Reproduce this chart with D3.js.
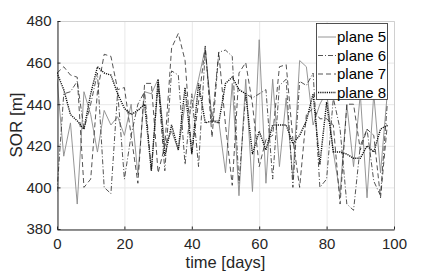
<!DOCTYPE html>
<html><head><meta charset="utf-8">
<script src="https://cdn.jsdelivr.net/npm/d3@7"></script>
<style>body{margin:0;background:#fff}svg{display:block}</style>
</head><body>
<svg id="c" width="436" height="273"></svg>
<script>
const days = d3.range(0, 100, 2);
const plane5 = [452,415,431,392,446,435,417,437,430,434,425,440,406,446,445,452,420,427,418,440,438,452,467,432,432,407,450,396,452,398,471,402,452,410,443,404,461,458,430,440,446,417,397,440,410,445,395,445,407,445];
const plane6 = [398,445,446,451,428,440,455,400,397,446,404,425,440,446,408,450,408,456,454,411,445,410,466,431,465,466,463,402,445,443,445,447,404,449,452,400,451,449,455,400,404,443,428,392,389,420,428,403,396,440];
const plane7 = [455,458,454,453,400,404,446,464,463,447,448,425,402,450,450,407,420,467,474,461,416,441,468,424,465,430,401,455,460,440,410,423,425,458,459,423,400,435,438,433,433,430,392,440,440,418,428,425,395,430];
const plane8 = [455,447,435,432,428,445,458,455,454,445,438,435,437,440,408,452,415,430,418,448,416,450,431,432,431,450,453,447,445,416,427,418,430,430,430,421,425,432,445,411,441,417,417,416,414,414,420,417,428,430];
const seriesNames = ["plane 5","plane 6","plane 7","plane 8"];
const xTicks = [0,20,40,60,80,100];
const yTicks = [380,400,420,440,460,480];

const svg = d3.select("#c");
const L=57, R=394, T=21, B=229;
const x = d3.scaleLinear().domain([0,100]).range([L,R]);
const y = d3.scaleLinear().domain([380,480]).range([B,T]);
const font = "Liberation Sans, Arial, sans-serif";

svg.append("g").selectAll("line").data(xTicks).join("line")
  .attr("x1",d=>x(d)+0.5).attr("x2",d=>x(d)+0.5).attr("y1",T).attr("y2",B)
  .attr("stroke","#e8e8e8").attr("stroke-width",1);
svg.append("g").selectAll("line").data(yTicks).join("line")
  .attr("y1",d=>y(d)+0.5).attr("y2",d=>y(d)+0.5).attr("x1",L).attr("x2",R)
  .attr("stroke","#e8e8e8").attr("stroke-width",1);

svg.append("path").attr("d",`M${L+0.5},${T+0.5}H${R+0.5}V${B+0.5}`)
  .attr("fill","none").attr("stroke","#d0d0d0");

const styles = [
  {data:plane5, color:"#8a8a8a", dash:null, w:0.9},
  {data:plane6, color:"#2a2a2a", dash:"5,2,1,2", w:0.8},
  {data:plane7, color:"#2a2a2a", dash:"5,3", w:0.8},
  {data:plane8, color:"#111", dash:"1.2,1", w:1.4}
];
const line = d3.line().x((d,i)=>x(days[i])).y(d=>y(d));
svg.append("clipPath").attr("id","cp").append("rect").attr("x",L).attr("y",T).attr("width",R-L).attr("height",B-T);
const gl = svg.append("g").attr("clip-path","url(#cp)");
styles.forEach(s=>{
  gl.append("path").attr("d",line(s.data)).attr("fill","none")
    .attr("stroke",s.color).attr("stroke-width",s.w)
    .attr("stroke-dasharray",s.dash).attr("stroke-linejoin","miter");
});

const xa = svg.append("g").attr("transform",`translate(0,${B+0.5})`)
  .call(d3.axisBottom(x).tickValues(xTicks).tickSizeInner(-3).tickSizeOuter(0).tickPadding(6));
const ya = svg.append("g").attr("transform",`translate(${L+0.5},0)`)
  .call(d3.axisLeft(y).tickValues(yTicks).tickSizeInner(-3).tickSizeOuter(0).tickPadding(6));
[xa,ya].forEach(a=>{
  a.select(".domain").attr("stroke","#262626");
  a.selectAll(".tick line").attr("stroke","#262626");
  a.selectAll(".tick text").attr("fill","#262626").style("font-family",font).style("font-size","15px");
});
xa.selectAll(".tick text").attr("dy","0.9em");

svg.append("text").attr("x",(L+R)/2).attr("y",268).attr("text-anchor","middle")
  .style("font-family",font).style("font-size","16.5px").attr("fill","#262626").text("time [days]");
svg.append("text").attr("transform",`translate(22,${(T+B)/2}) rotate(-90)`).attr("text-anchor","middle")
  .style("font-family",font).style("font-size","17px").attr("fill","#262626").text("SOR [m]");

const lg = svg.append("g");
lg.append("rect").attr("x",316.5).attr("y",23.5).attr("width",71).attr("height",76)
  .attr("fill","#fff").attr("stroke","#262626").attr("stroke-width",0.8);
styles.forEach((s,i)=>{
  const yy = 37 + i*18.5;
  lg.append("line").attr("x1",318).attr("x2",336).attr("y1",yy).attr("y2",yy)
    .attr("stroke",s.color).attr("stroke-width",s.w).attr("stroke-dasharray",s.dash);
  lg.append("text").attr("x",337).attr("y",yy).attr("dy","0.36em")
    .style("font-family",font).style("font-size","15px").attr("fill","#000").text(seriesNames[i]);
});
</script>
</body></html>
